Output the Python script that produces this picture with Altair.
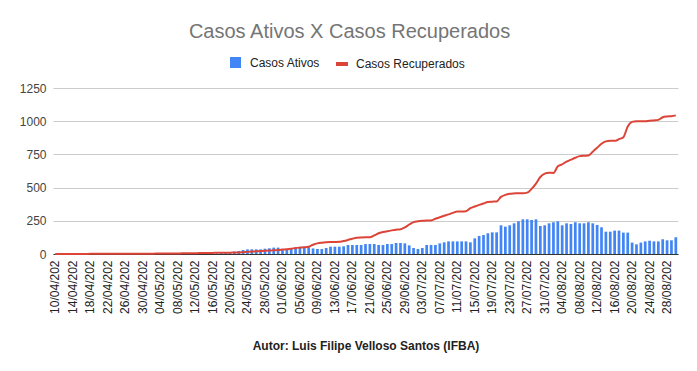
import altair as alt
import pandas as pd

dates = pd.date_range("2020-04-10", periods=143, freq="D").strftime("%d/%m/%Y").tolist()

casos_ativos = (
    [0] * 20 + [1] * 8 + [2] * 4 + [3] * 4 +
    [4, 5, 8, 10, 15, 18, 23, 30, 35, 35, 35, 35, 40, 43, 48, 48, 38, 36, 40, 45,
     55, 55, 52, 42, 38, 38, 45, 55, 55, 55,
     58, 68, 68, 68, 68, 75, 75, 75, 68, 68, 75, 75, 83, 83, 80, 65, 45, 38, 45, 68,
     68, 68, 80, 88, 95, 95, 95, 95, 95, 88, 118, 136, 143, 156, 163, 163, 216, 206, 216, 231,
     246, 261, 261, 256, 261, 211, 216, 231, 239, 246, 216, 231, 226, 239, 231, 231, 239, 231, 219, 201,
     168, 168, 176, 176, 161, 161, 86, 73, 86, 95, 100, 95, 95, 111, 103, 103, 126]
)

casos_recuperados = [
    0, 0, 0, 0, 0, 0, 0, 0, 1, 1,
    1, 1, 1, 1, 1, 1, 2, 2, 2, 2,
    2, 2, 2, 3, 3, 3, 3, 4, 4, 5,
    5, 6, 6, 7, 7, 8, 8, 9, 9, 10,
    10, 11, 12, 14, 16, 18, 20, 22, 24, 26,
    28, 30, 33, 36, 40, 45, 48, 50, 55, 70,
    80, 85, 88, 90, 91, 92, 98, 106, 115, 123,
    125, 126, 126, 140, 156, 165, 172, 178, 183, 186,
    200, 222, 240, 246, 250, 252, 253, 265, 277, 288,
    298, 310, 320, 320, 322, 345, 358, 370, 380, 392,
    394, 396, 430, 445, 453, 456, 458, 458, 462, 490,
    530, 580, 605, 612, 610, 660, 675, 695, 710, 725,
    737, 740, 742, 770, 800, 830, 848, 852, 852, 865,
    880, 960, 995, 999, 999, 999, 1004, 1006, 1010, 1030,
    1036, 1038, 1044,
]

y_ticks = [0, 250, 500, 750, 1000, 1250]

df = pd.DataFrame({
    "data": dates,
    "ativos": casos_ativos,
    "recuperados": casos_recuperados,
    "s1": "Casos Ativos",
    "s2": "Casos Recuperados",
})

x_scale = alt.Scale(paddingInner=0.38, paddingOuter=0.19)
x_axis = alt.Axis(
    values=dates[::4],
    labelExpr="substring(datum.label, 0, 9)",
    labelAngle=270, labelFontSize=12, labelColor="#222222",
    ticks=False, domain=True, domainColor="#333333", domainWidth=1,
    labelPadding=6,
    title="Autor: Luis Filipe Velloso Santos (IFBA)",
    titleFontSize=12, titleFontWeight="bold", titleColor="#222222",
    titlePadding=27,
)

y_scale = alt.Scale(domain=[0, 1250], nice=False)
y_axis = alt.Axis(
    values=y_ticks, format="d", title=None, domain=False, ticks=False,
    labelFontSize=12, labelColor="#444444", labelPadding=7, labelOverlap=False,
    gridColor="#cccccc", gridWidth=1,
)

bars = alt.Chart(df).mark_bar().encode(
    x=alt.X("data:O", sort=None, scale=x_scale, axis=x_axis),
    y=alt.Y("ativos:Q", scale=y_scale, axis=y_axis),
    color=alt.Color(
        "s1:N",
        scale=alt.Scale(domain=["Casos Ativos"], range=["#4285f4"]),
        legend=alt.Legend(
            title=None, orient="none", legendX=176, legendY=-32,
            symbolType="square", symbolSize=121, labelFontSize=12,
            labelColor="#222222", labelOffset=8, padding=0,
        ),
    ),
)

line = alt.Chart(df).mark_line(strokeWidth=2, interpolate="monotone").encode(
    x=alt.X("data:O", sort=None, scale=x_scale, axis=x_axis),
    y=alt.Y("recuperados:Q", scale=y_scale, axis=y_axis),
    stroke=alt.Stroke(
        "s2:N",
        scale=alt.Scale(domain=["Casos Recuperados"], range=["#db4437"]),
        legend=alt.Legend(
            title=None, orient="none", legendX=281, legendY=-32,
            symbolType="stroke", symbolSize=144, symbolStrokeWidth=4,
            labelFontSize=12, labelColor="#222222", labelOffset=6, padding=0,
        ),
    ),
)

chart = (
    alt.layer(bars, line)
    .properties(
        width=625, height=166,
        autosize=alt.AutoSizeParams(type="none"),
        padding={"left": 45, "top": 80, "right": 6, "bottom": 104},
        title=alt.TitleParams(
            "Casos Ativos X Casos Recuperados", fontSize=20, fontWeight="normal",
            color="#757575", anchor="middle", frame="bounds", offset=14,
        ),
    )
    .configure(font="Liberation Sans")
    .configure_view(stroke=None)
)

chart.save("out.html", embed_options={"renderer": "svg", "actions": False})
